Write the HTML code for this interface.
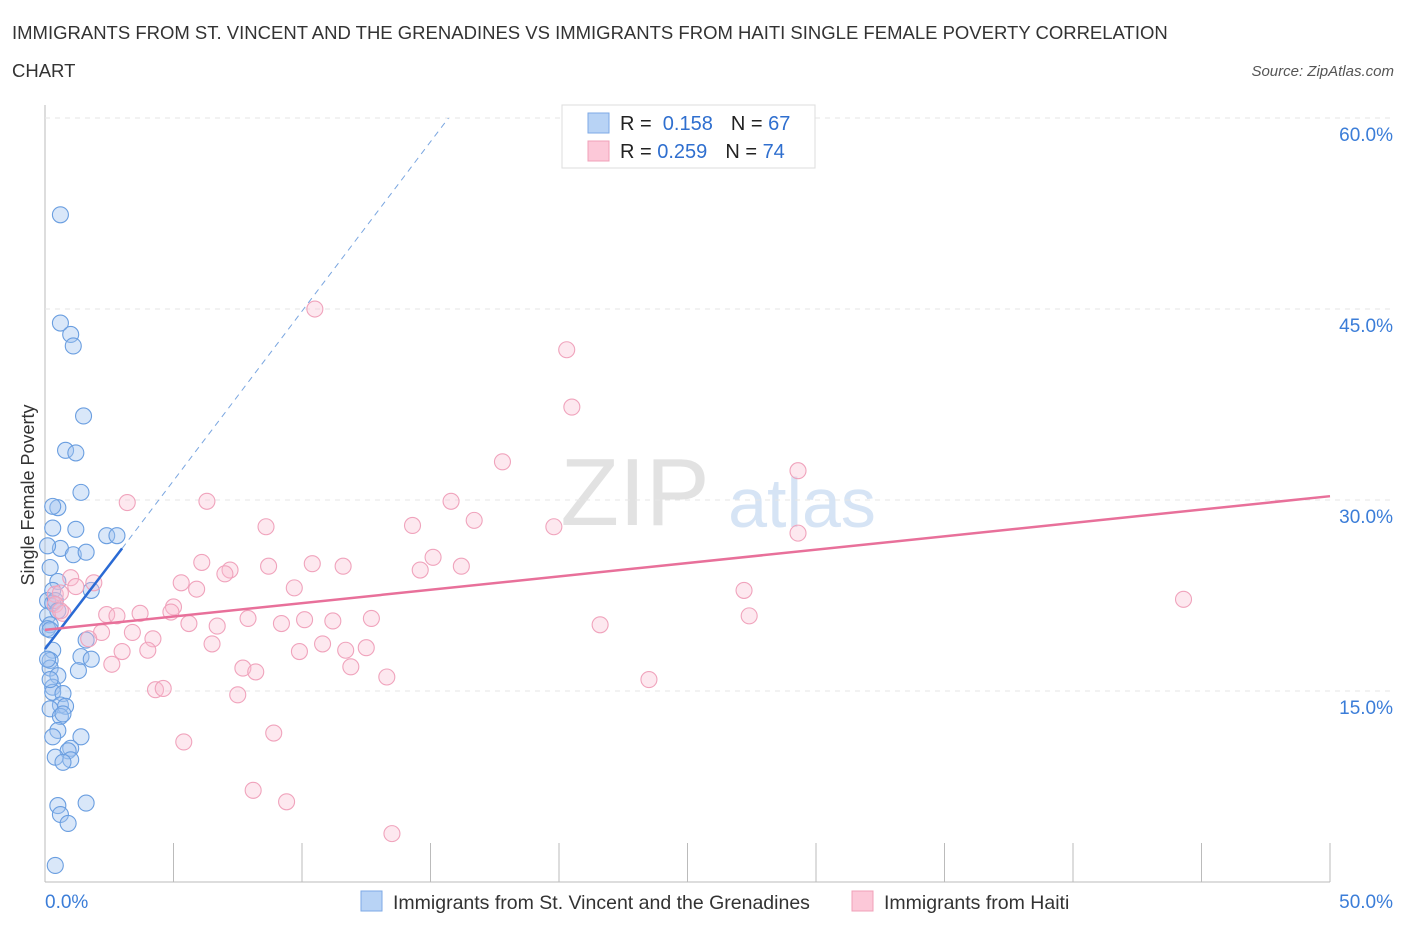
<!DOCTYPE html>
<html><head><meta charset="utf-8"><style>
body{margin:0;background:#fff;font-family:"Liberation Sans",sans-serif}
svg text{font-family:"Liberation Sans",sans-serif}
</style></head><body>
<svg id="c" width="1406" height="930" xmlns="http://www.w3.org/2000/svg">
<text x="12" y="39" font-size="18.5" fill="#333">IMMIGRANTS FROM ST. VINCENT AND THE GRENADINES VS IMMIGRANTS FROM HAITI SINGLE FEMALE POVERTY CORRELATION</text>
<text x="12" y="77" font-size="18.5" fill="#333">CHART</text>
<text x="1394" y="76" font-size="15" fill="#555" font-style="italic" text-anchor="end">Source: ZipAtlas.com</text>
<text x="635" y="525" font-size="96" fill="#e2e2e2" font-family="Liberation Serif" text-anchor="middle">ZIP</text>
<text x="802" y="527" font-size="70" fill="#d6e4f5" text-anchor="middle">atlas</text>
<g id="grid"></g><g id="pts"></g><g id="lines"></g>
<text x="34" y="495" font-size="18" fill="#333" transform="rotate(-90 34 495)" text-anchor="middle">Single Female Poverty</text>
<g>
<rect x="562" y="105" width="253" height="63" fill="#fff" stroke="#ddd"/>
<rect x="588" y="113" width="21" height="20" fill="#b8d3f5" stroke="#7eaae6"/>
<rect x="588" y="141" width="21" height="20" fill="#fcc8d8" stroke="#f0a0b8"/>
<text x="620" y="130" font-size="20" fill="#222">R = <tspan fill="#2f6fcf">&#160;0.158</tspan><tspan dx="18">N = </tspan><tspan fill="#2f6fcf">67</tspan></text>
<text x="620" y="158" font-size="20" fill="#222">R = <tspan fill="#2f6fcf">0.259</tspan><tspan dx="18">N = </tspan><tspan fill="#2f6fcf">74</tspan></text>
</g>
<g>
<rect x="361" y="891" width="21" height="20" fill="#b8d3f5" stroke="#7eaae6"/>
<text x="393" y="909" font-size="19.5" fill="#333">Immigrants from St. Vincent and the Grenadines</text>
<rect x="852" y="891" width="21" height="20" fill="#fcc8d8" stroke="#f0a0b8"/>
<text x="884" y="909" font-size="19.5" fill="#333">Immigrants from Haiti</text>
</g>
</svg>
<script>
const yTicks=[15,30,45,60];
const xTickLabels=["0.0%","50.0%"];
const blueX=[0.6,0.6,1.0,1.1,1.5,0.8,1.2,1.4,0.5,0.3,0.3,1.2,2.4,2.8,0.6,1.1,1.6,0.1,0.2,0.5,0.3,1.8,0.1,0.3,0.1,0.2,0.1,1.6,1.4,0.3,0.2,1.8,0.2,1.3,0.5,0.3,0.3,0.7,0.6,0.8,0.2,0.6,0.7,0.5,1.4,0.3,1.0,0.9,1.0,0.4,0.7,0.5,1.6,0.6,0.9,0.4,0.2,0.1,0.2,0.4,0.5];
const blueY=[52.4,43.9,43.0,42.1,36.6,33.9,33.7,30.6,29.4,29.5,27.8,27.7,27.2,27.2,26.2,25.7,25.9,26.4,24.7,23.6,22.9,22.9,22.1,21.9,20.9,20.2,19.9,19.0,17.7,18.2,17.4,17.5,16.8,16.6,16.2,15.3,14.9,14.8,13.9,13.8,13.6,13.0,13.2,11.9,11.4,11.4,10.5,10.3,9.6,9.8,9.4,6.0,6.2,5.3,4.6,1.3,19.8,17.5,15.9,22.1,21.3];
const pinkX=[10.5,20.3,20.5,17.8,29.3,3.2,6.3,15.8,8.6,14.3,16.7,19.8,29.3,6.1,15.1,10.4,11.6,8.7,7.2,7.0,14.6,16.2,5.3,1.0,1.9,1.2,0.4,0.6,9.7,5.9,27.2,44.3,5.0,0.4,0.7,2.4,2.8,3.7,4.9,7.9,10.1,11.2,12.7,9.2,5.6,6.7,21.6,27.4,2.2,3.4,1.7,4.2,10.8,6.5,4.0,3.0,9.9,11.7,12.5,2.6,7.7,8.2,11.9,13.3,23.5,4.3,4.6,7.5,8.9,5.4,8.1,9.4,13.5,0.6];
const pinkY=[45.0,41.8,37.3,33.0,32.3,29.8,29.9,29.9,27.9,28.0,28.4,27.9,27.4,25.1,25.5,25.0,24.8,24.8,24.5,24.2,24.5,24.8,23.5,23.9,23.5,23.2,22.6,22.7,23.1,23.0,22.9,22.2,21.6,21.8,21.1,21.0,20.9,21.1,21.2,20.7,20.6,20.5,20.7,20.3,20.3,20.1,20.2,20.9,19.6,19.6,19.1,19.1,18.7,18.7,18.2,18.1,18.1,18.2,18.4,17.1,16.8,16.5,16.9,16.1,15.9,15.1,15.2,14.7,11.7,11.0,7.2,6.3,3.8,21.3];
const blueLine=[0,18.3,3,26.2], blueDash=[3,26.2,15.7,60];
const pinkLine=[0,19.8,50,30.3];
const sx=v=>45+v*25.7, sy=v=>882-v*12.733;
const NS="http://www.w3.org/2000/svg";
function mk(tag,attrs,parent){const e=document.createElementNS(NS,tag);for(const k in attrs)e.setAttribute(k,attrs[k]);document.getElementById(parent).appendChild(e);return e;}
let a=mk('line',{x1:45,y1:105,x2:45,y2:882,stroke:'#bbb'},'grid');


a=mk('line',{x1:45,y1:882,x2:1330,y2:882,stroke:'#bbb'},'grid');


for(let i=0;i<=10;i++){const t=mk('line',{x1:sx(i*5),y1:882,x2:sx(i*5),y2:i==0?882:843,stroke:'#bbb'},'grid');

}
yTicks.forEach(v=>{const g=mk('line',{x1:45,y1:sy(v),x2:1392,y2:sy(v),stroke:'#e6e6e6','stroke-dasharray':'5,5'},'grid');


const t=mk('text',{x:1393,y:sy(v)+23,'font-size':19,fill:'#3b7dd8','text-anchor':'end'},'grid');t.textContent=v.toFixed(1)+'%';

});
xTickLabels.forEach((l,i)=>{const t=mk('text',{x:i?1393:45,y:908,'font-size':19,fill:'#3b7dd8','text-anchor':i?'end':'start'},'grid');t.textContent=l;

});
blueX.forEach((x,i)=>{const c=mk('circle',{cx:sx(x),cy:sy(blueY[i]),r:8,fill:'rgba(160,196,240,0.4)',stroke:'#6a9ee0','stroke-width':1.1},'pts');

});
pinkX.forEach((x,i)=>{const c=mk('circle',{cx:sx(x),cy:sy(pinkY[i]),r:8,fill:'rgba(250,190,208,0.35)',stroke:'#f0a3bc','stroke-width':1.1},'pts');

});
let l=mk('line',{x1:sx(blueDash[0]),y1:sy(blueDash[1]),x2:sx(blueDash[2]),y2:sy(blueDash[3]),stroke:'#7aa6e0','stroke-dasharray':'6,5','stroke-width':1},'lines');


l=mk('line',{x1:sx(blueLine[0]),y1:sy(blueLine[1]),x2:sx(blueLine[2]),y2:sy(blueLine[3]),stroke:'#2a6ad4','stroke-width':2.5},'lines');


l=mk('line',{x1:sx(pinkLine[0]),y1:sy(pinkLine[1]),x2:sx(pinkLine[2]),y2:sy(pinkLine[3]),stroke:'#e8709a','stroke-width':2.5},'lines');


</script>
</body></html>
